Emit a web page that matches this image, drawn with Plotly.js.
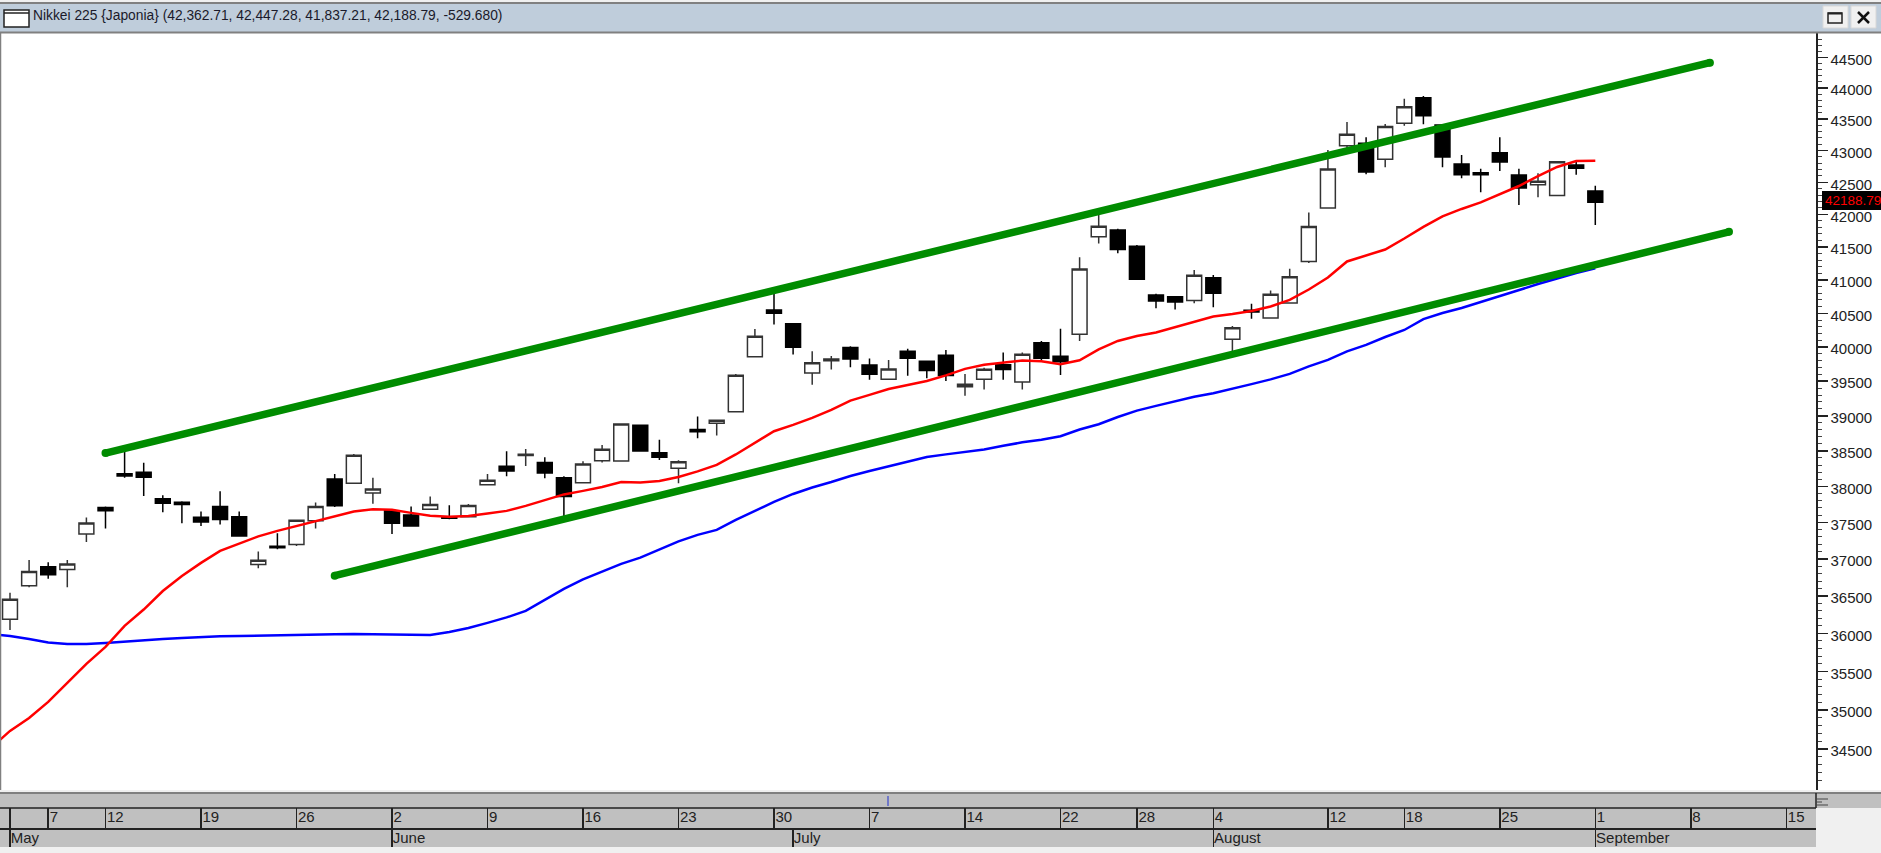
<!DOCTYPE html>
<html>
<head>
<meta charset="utf-8">
<script src="https://cdn.plot.ly/plotly-3.0.1.min.js"></script>
<style>html,body{margin:0;padding:0;background:#fff;overflow:hidden}#c{width:1881px;height:853px}</style>
</head>
<body>
<div id="c"></div>
<script>
const open_ = [36188,36637,36895,36855,37340,37706,38179,38199,37830,37780,
37572,37720,37580,36923,37172,37196,37525,38105,38045,37910,
37660,37603,37683,37580,37580,38025,38283,38434,38335,38123,
38050,38360,38358,38867,38475,38256,38805,38893,39060,39857,
40550,40346,39620,39800,39992,39735,39530,39938,39790,39880,
39420,39530,39740,39490,40065,39865,40190,41655,41760,41510,
40774,40749,40690,41033,40115,40545,40430,40655,41280,42100,
43076,43115,42862,43433,43843,43406,42787,42651,42966,42615,
42463,42292,42771,42362.71];
const high_ = [36543,36986,36955,36986,37567,37720,38490,38333,37878,37794,
37650,37933,37650,37100,37350,37535,37775,38175,38456,38123,
37665,37720,37860,37737,37755,38175,38495,38527,38410,38143,
38353,38585,38885,38876,38657,38368,38990,38940,39607,40268,
40790,40346,39940,39870,40010,39830,39810,39976,39795,39958,
39607,39695,39920,39920,40090,40272,41343,41997,41780,41530,
40793,40755,41150,41075,40312,40644,40840,41170,42030,43008,
43455,43210,43422,43828,43871,43422,42929,42714,43210,42714,
42641,42830,42824,42447.28];
const low_ = [36045,36615,36732,36615,37230,37415,38123,37868,37642,37490,
37452,37470,37315,36873,37131,37178,37415,37712,38045,37760,
37340,37452,37683,37545,37572,38025,38143,38287,38115,37590,
38050,38335,38358,38499,38372,38046,38680,38718,39060,39857,
40333,39890,39450,39670,39705,39523,39530,39578,39545,39505,
39290,39380,39523,39380,39785,39590,40090,41555,41405,41010,
40574,40555,40650,40590,39935,40420,40430,40655,41255,42100,
43035,42626,42735,43395,43417,42735,42563,42345,42677,42147,
42267,42292,42619,41837.21];
const close_ = [36455,36830,36786,36932,37493,37660,38147,38129,37766,37747,
37507,37540,37315,36982,37153,37530,37720,37730,38438,37965,
37490,37452,37750,37558,37733,38087,38216,38453,38190,37860,
38315,38522,38885,38499,38410,38348,38772,38936,39588,40160,
40500,39997,39770,39825,39825,39602,39680,39835,39655,39582,
39457,39675,39670,39895,39835,39785,41165,41820,41460,41010,
40684,40670,41070,40800,40284,40520,40785,41050,41815,42710,
43258,42662,43380,43697,43554,42897,42619,42619,42819,42411,
42516,42824,42719,42188.79];
// moving averages start one session before the first visible candle
const redAvg = [34514,34731,34896,35104,35349,35599,35821,36099,36317,36566,36769,
36946,37110,37205,37308,37384,37452,37521,37590,37650,37683,
37674,37632,37594,37580,37590,37625,37660,37729,37813,37889,
37938,37993,38063,38056,38077,38133,38211,38302,38450,38613,
38780,38870,38970,39085,39220,39302,39388,39446,39504,39585,
39680,39739,39775,39802,39790,39749,39805,39965,40090,40164,
40216,40298,40378,40452,40490,40535,40602,40700,40856,41036,
41280,41370,41462,41630,41808,41970,42085,42186,42310,42442,
42598,42740,42834,42838];
const blueAvg = [35992,35966,35926,35880,35860,35860,35873,35893,35913,35926,35939,
35953,35962,35966,35972,35979,35982,35984,35987,35992,35988,
35984,35979,35979,36019,36072,36139,36212,36299,36445,36594,
36722,36824,36932,37018,37130,37240,37329,37397,37535,37660,
37784,37895,37986,38063,38147,38217,38281,38352,38415,38451,
38486,38519,38572,38622,38658,38708,38804,38880,38984,39075,
39143,39212,39276,39325,39386,39458,39527,39607,39717,39812,
39936,40031,40148,40252,40414,40504,40579,40669,40766,40856,
40938,41021,41105,41177];
const upperTrendX = [5, 89], upperTrendY = [38470, 44412];
const lowerTrendX = [17, 90], lowerTrendY = [36773, 41733];
const dayTickIdx = [0,2,5,10,15,20,25,30,35,40,45,50,55,59,63,69,73,78,83,88,93];
const dayTickTxt = ['','7','12','19','26','2','9','16','23','30','7','14','22','28','4','12','18','25','1','8','15'];
const monthTickIdx = [0,20,41,63,83];
const monthTickTxt = ['May','June','July','August','September'];
const priceTicks = [44500,44000,43500,43000,42500,42000,41500,41000,40500,40000,39500,39000,38500,38000,37500,37000,36500,36000,35500,35000,34500];
const minorTicks = [44800,44700,44600,44400,44300,44200,44100,43900,43800,43700,43600,43400,43300,43200,43100,42900,42800,42700,42600,42400,42300,42200,42100,41900,41800,41700,41600,41400,41300,41200,41100,40900,40800,40700,40600,40400,40300,40200,40100,39900,39800,39700,39600,39400,39300,39200,39100,38900,38800,38700,38600,38400,38300,38200,38100,37900,37800,37700,37600,37400,37300,37200,37100,36900,36800,36700,36600,36400,36300,36200,36100,35900,35800,35700,35600,35400,35300,35200,35100,34900,34800,34700,34600,34400,34300,34200,34100];
const titleText = 'Nikkei 225 {Japonia} (42,362.71, 42,447.28, 41,837.21, 42,188.79, -529.680)';
const lastLabel = '42188.79';

const W = 1881, H = 853;
const fx = p => p / W, fy = p => 1 - p / H;
const sessions = open_.map((_, i) => i);
const avgX = redAvg.map((_, i) => i - 1);
const xRange = [-0.5236, 94.555];

const rect = (x0, y0, x1, y1, fill, extra) => Object.assign({type:'rect', xref:'paper', yref:'paper',
  x0:fx(x0), x1:fx(x1), y0:fy(y0), y1:fy(y1), fillcolor:fill, line:{width:0}, layer:'below'}, extra||{});
const seg = (x0, y0, x1, y1, color, w, layer) => ({type:'line', xref:'paper', yref:'paper',
  x0:fx(x0), x1:fx(x1), y0:fy(y0), y1:fy(y1), line:{color:color, width:w}, layer:layer||'above'});

const shapes = [
  rect(0,0,W,3,'#f0f0f0'),
  rect(0,3,W,33,'#bfcddb'),
  seg(0,3,W,3,'#808080',2),
  seg(0,32.5,W,32.5,'#808080',2),
  seg(0.5,33,0.5,790,'#808080',1.5),
  rect(0,790,W,853,'#f0f0f0'),
  rect(0,793,W,808,'#c0c0c0'),
  rect(0,808,1816,847,'#c0c0c0'),
  seg(0,793,W,793,'#808080',2),
  seg(0,808,1816,808,'#222222',1.5),
  seg(888,796,888,806,'#2030d0',1),
  seg(1816,793,1816,808,'#222222',1.5),
  seg(1816,799,1828,799,'#444444',1),
  seg(1816,802,1822,802,'#444444',1),
  seg(1816,805,1828,805,'#444444',1),
  // window icon
  rect(4,10,29,27,'#ffffff',{layer:'above', line:{color:'#222222', width:1.5}}),
  seg(4,13,29,13,'#222222',1.5),
  // window buttons
  rect(1823,6,1848,28,'#f0f0f0',{layer:'above', line:{color:'#d8d8d8', width:1}}),
  rect(1851,6,1876,28,'#f0f0f0',{layer:'above', line:{color:'#d8d8d8', width:1}}),
  rect(1828,13,1842,23,'#f0f0f0',{layer:'above', line:{color:'#222222', width:1.5}}),
  seg(1828,13.5,1842,13.5,'#222222',2),
  seg(1858,12,1869,23,'#111111',2.5),
  seg(1869,12,1858,23,'#111111',2.5),
  // last price flag
  rect(1822,191,W,210,'#000000',{layer:'above'})
];

const common = {hoverinfo:'skip', showlegend:false};
const data = [
  Object.assign({type:'candlestick', x:sessions, open:open_, high:high_, low:low_, close:close_,
    whiskerwidth:0,
    increasing:{line:{color:'#333333', width:1.5}, fillcolor:'#ffffff'},
    decreasing:{line:{color:'#000000', width:1.5}, fillcolor:'#000000'}}, common),
  Object.assign({type:'scatter', mode:'lines', x:avgX, y:blueAvg, line:{color:'#0000ff', width:2.5}}, common),
  Object.assign({type:'scatter', mode:'lines', x:avgX, y:redAvg, line:{color:'#ff0000', width:2.5}}, common),
  Object.assign({type:'scatter', mode:'lines+markers', x:upperTrendX, y:upperTrendY, line:{color:'#008c00', width:7.5}, marker:{color:'#008c00', size:8}}, common),
  Object.assign({type:'scatter', mode:'lines+markers', x:lowerTrendX, y:lowerTrendY, line:{color:'#008c00', width:7.5}, marker:{color:'#008c00', size:8}}, common),
  Object.assign({type:'scatter', mode:'markers', x:[0], y:[36000], xaxis:'x2', marker:{opacity:0}}, common)
];

const tickFont = {family:'"Liberation Sans", Arial, sans-serif', size:15, color:'#222222'};
const layout = {
  width:W, height:H, margin:{l:0,r:0,t:0,b:0}, paper_bgcolor:'#ffffff', plot_bgcolor:'#ffffff',
  boxgap:0.22, boxgroupgap:0, dragmode:false, showlegend:false,
  xaxis:{domain:[0,1816/W], range:xRange, anchor:'free', position:fy(828), side:'bottom', showgrid:false, zeroline:false,
    tickmode:'array', tickvals:dayTickIdx, ticktext:dayTickTxt, ticks:'inside', ticklen:20, tickwidth:1.5, tickcolor:'#222222',
    ticklabelposition:'inside right', tickfont:tickFont, showline:true, linecolor:'#222222', linewidth:1.5,
    rangeslider:{visible:false}, fixedrange:true},
  xaxis2:{domain:[0,1816/W], range:xRange, anchor:'free', position:fy(847), side:'bottom', overlaying:'x', showgrid:false, zeroline:false,
    tickmode:'array', tickvals:monthTickIdx, ticktext:monthTickTxt, ticks:'inside', ticklen:19, tickwidth:1.5, tickcolor:'#222222',
    ticklabelposition:'inside right', ticklabelstandoff:-5, tickfont:tickFont, showline:false, fixedrange:true},
  yaxis:{domain:[fy(790),fy(33)], type:'log', range:[Math.log10(33984),Math.log10(44900)], side:'right', anchor:'x', showgrid:false, zeroline:false,
    tickmode:'array', tickvals:priceTicks, ticktext:priceTicks.map(String), ticks:'outside', ticklen:10, tickwidth:1.5, tickcolor:'#222222',
    tickfont:tickFont, showline:true, linecolor:'#222222', linewidth:1.5, fixedrange:true, ticklabelshift:2,
    minor:{tickmode:'array', tickvals:minorTicks, ticks:'outside', ticklen:4, tickwidth:1, tickcolor:'#444444', showgrid:false}},
  shapes:shapes,
  annotations:[
    {xref:'paper', yref:'paper', x:fx(31), y:fy(15.5), xanchor:'left', yanchor:'middle', showarrow:false, align:'left',
     text:titleText, font:{family:'"Liberation Sans", Arial, sans-serif', size:13.8, color:'#1a1a2a'}},
    {xref:'paper', yref:'paper', x:fx(1823), y:fy(200.5), xanchor:'left', yanchor:'middle', showarrow:false,
     text:lastLabel, font:{family:'"Liberation Sans", Arial, sans-serif', size:13.5, color:'#ff0000'}}
  ]
};
Plotly.newPlot('c', data, layout, {displayModeBar:false, staticPlot:true});
</script>
</body>
</html>
